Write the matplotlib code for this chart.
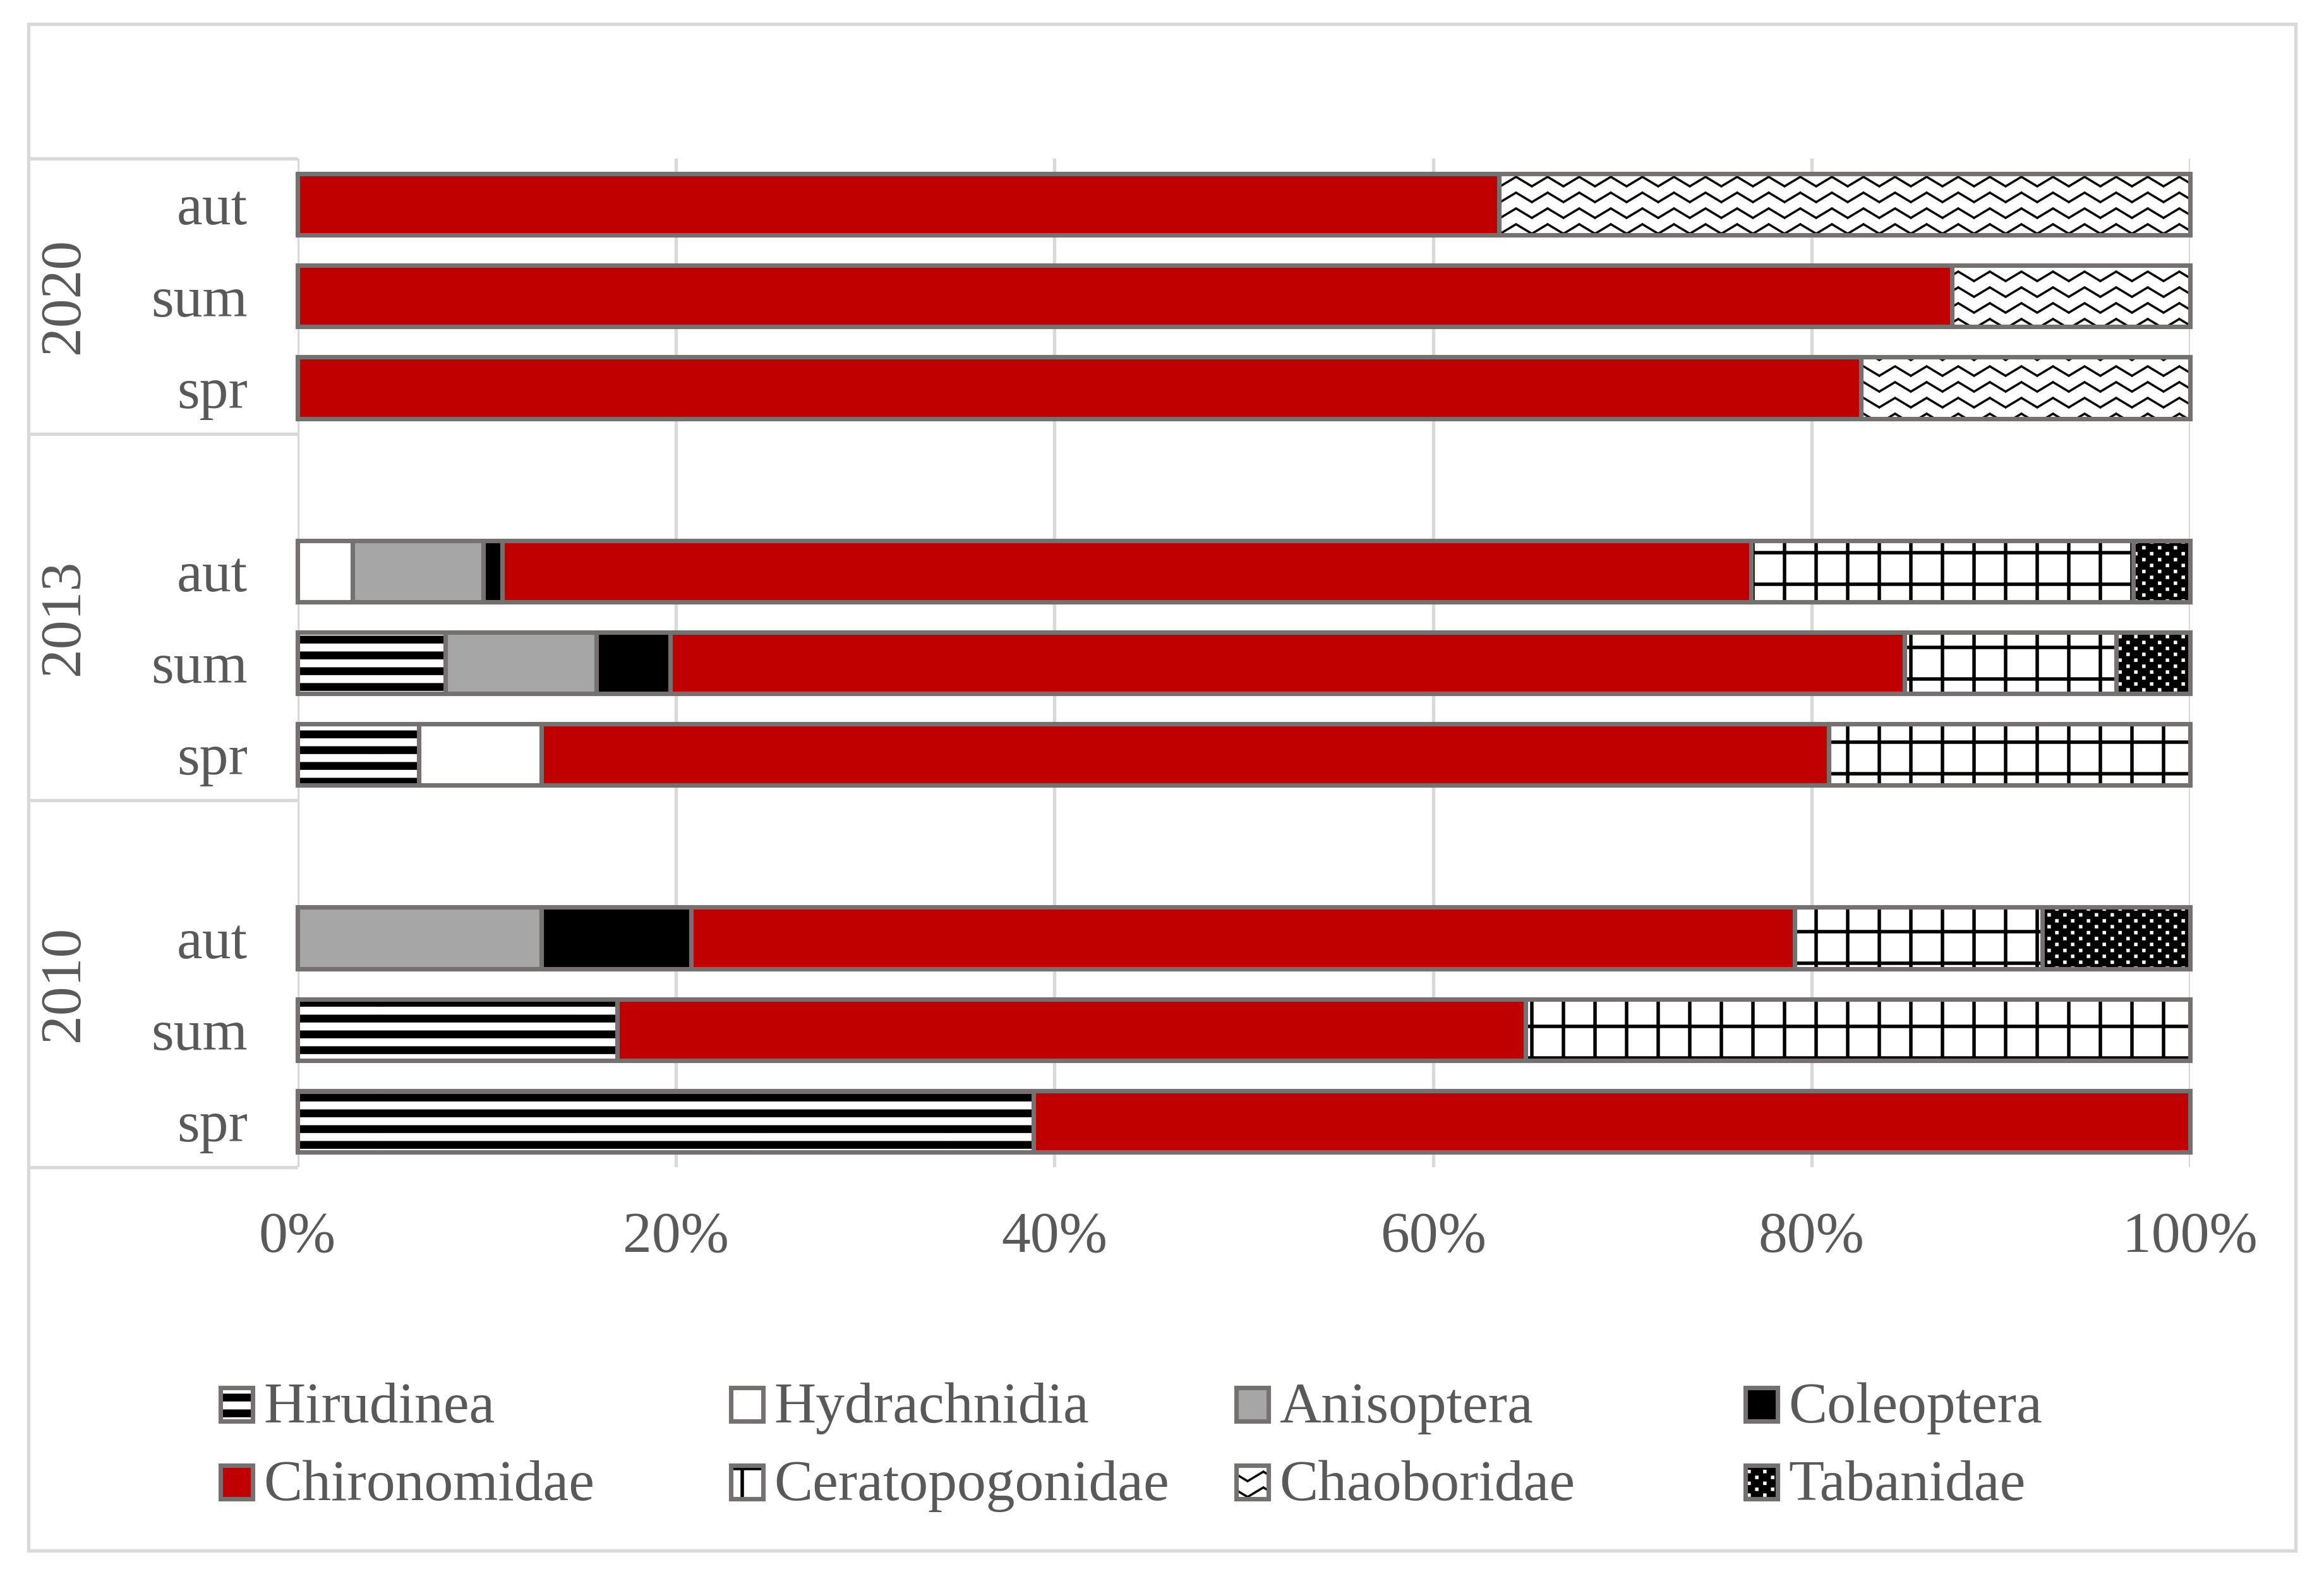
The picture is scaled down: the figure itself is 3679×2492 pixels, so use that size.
import numpy as np
import matplotlib
matplotlib.use("Agg")
import matplotlib.pyplot as plt
import matplotlib.hatch as mhatch
import matplotlib.patches as mpatches
import matplotlib.transforms as mtransforms
from matplotlib.path import Path
from matplotlib.ticker import PercentFormatter

# ---- data (share of each taxon, %) ----
years = ["2010", "2013", "2020"]
seasons = ["spr", "sum", "aut"]
taxa = ["Hirudinea", "Hydrachnidia", "Anisoptera", "Coleoptera",
        "Chironomidae", "Ceratopogonidae", "Chaoboridae", "Tabanidae"]

# order of values: 2010 spr/sum/aut, 2013 spr/sum/aut, 2020 spr/sum/aut
hirudinea = [38.9, 16.9, 0, 6.4, 7.8, 0, 0, 0, 0]
hydrachnidia = [0, 0, 0, 6.5, 0, 2.9, 0, 0, 0]
anisoptera = [0, 0, 12.9, 0, 8.0, 6.9, 0, 0, 0]
coleoptera = [0, 0, 7.9, 0, 3.9, 1.0, 0, 0, 0]
chironomidae = [61.1, 48.0, 58.3, 68.0, 65.2, 66.0, 82.6, 87.4, 63.5]
ceratopogonidae = [0, 35.1, 13.1, 19.1, 11.2, 20.2, 0, 0, 0]
chaoboridae = [0, 0, 0, 0, 0, 0, 17.4, 12.6, 36.5]
tabanidae = [0, 0, 7.8, 0, 3.9, 3.0, 0, 0, 0]

series = [hirudinea, hydrachnidia, anisoptera, coleoptera,
          chironomidae, ceratopogonidae, chaoboridae, tabanidae]

# (face colour, hatch, hatch colour) per taxon
styles = [
    ("white", "-", "black"),
    ("white", None, "black"),
    ("#A6A6A6", None, "black"),
    ("black", None, "black"),
    ("#C00000", None, "black"),
    ("white", "+", "black"),
    ("white", "/", "black"),
    ("black", ".", "white"),
]

EDGE = "#767171"
LIGHT = "#D9D9D9"
TEXT = "#595959"
W, H, DPI = 3679, 2492, 300


# ---- excel-like fill patterns (tile = 1 unit = 300 px) ----
def _rect(x0, y0, x1, y1):
    return [(x0, y0), (x1, y0), (x1, y1), (x0, y1)]


def _stripes():
    return [_rect(0, (j + 0.25) / 12, 1, (j + 0.25) / 12 + 0.04) for j in range(12)]


def _grid():
    t = 0.017
    polys = []
    for k in range(6):
        c = (k + 0.5) / 6
        polys.append(_rect(c - t / 2, 0, c + t / 2, 1))
        polys.append(_rect(0, c - t / 2, 1, c + t / 2))
    return polys


def _zigzag():
    t, amp = 0.012, 0.05
    polys = []
    for j in range(12):
        yc = (j + 0.5) / 12
        for k in range(12):
            xa, xb = k / 12, (k + 1) / 12
            ya = yc + amp / 2 if k % 2 == 0 else yc - amp / 2
            yb = yc - amp / 2 if k % 2 == 0 else yc + amp / 2
            polys.append([(xa, ya + t / 2), (xb, yb + t / 2),
                          (xb, yb - t / 2), (xa, ya - t / 2)])
    return polys


def _dots():
    s = 0.017
    polys = []
    for i in range(24):
        for j in range(32):
            if (i + j) % 2 == 0:
                cx, cy = (i + 0.5) / 24, (j + 0.5) / 32
                polys.append(_rect(cx - s / 2, cy - s / 2, cx + s / 2, cy + s / 2))
    return polys


TILES = {"-": _stripes(), "+": _grid(), "/": _zigzag(), ".": _dots()}


class TilePattern(mhatch.HatchPatternBase):
    def __init__(self, hatch, density):
        self.polys = TILES.get(hatch, [])
        self.num_vertices = sum(len(p) + 1 for p in self.polys)

    def set_vertices_and_codes(self, vertices, codes):
        i = 0
        for p in self.polys:
            n = len(p)
            vertices[i:i + n] = p
            vertices[i + n] = p[0]
            codes[i] = Path.MOVETO
            codes[i + 1:i + n] = Path.LINETO
            codes[i + n] = Path.CLOSEPOLY
            i += n + 1


mhatch._hatch_types[:] = [TilePattern]

plt.rcParams["font.family"] = "Liberation Serif"
plt.rcParams["hatch.linewidth"] = 0.1

fig = plt.figure(figsize=(W / DPI, H / DPI), dpi=DPI)


def fx(px):
    return px / W


def fy(py):
    return 1 - py / H


x0, x1 = 471, 3467
top, bottom = 251, 1848
ax = fig.add_axes([fx(x0), fy(bottom), fx(x1) - fx(x0), fy(top) - fy(bottom)])

# bar positions: 4 slots per year (3 seasons + 1 blank)
ypos = np.array([g * 4 + s for g in range(len(years)) for s in range(len(seasons))], dtype=float)
n_slots = (len(years) - 1) * 4 + len(seasons)

left = np.zeros(len(ypos))
bar_h = 0.67
for vals, (face, hatch, hcol) in zip(series, styles):
    vals = np.array(vals, dtype=float)
    m = vals > 0
    ax.barh(ypos[m], vals[m], left=left[m], height=bar_h, color=face,
            edgecolor=hcol, linewidth=0, hatch=hatch, zorder=2)
    ax.barh(ypos[m], vals[m], left=left[m], height=bar_h, fill=False,
            edgecolor=EDGE, linewidth=1.7, zorder=3, clip_on=False)
    left += vals

ax.set_xlim(0, 100)
ax.set_ylim(-0.5, n_slots - 0.5)
ax.set_xticks(np.arange(0, 101, 20))
ax.xaxis.set_major_formatter(PercentFormatter(xmax=100, decimals=0))
ax.set_yticks(ypos, seasons * len(years))
ax.tick_params(axis="both", length=0, labelsize=22, labelcolor=TEXT)
ax.tick_params(axis="x", pad=17)
ax.tick_params(axis="y", pad=19)
ax.grid(axis="x", color=LIGHT, linewidth=1.3)
ax.set_axisbelow(True)
for sp in ax.spines.values():
    sp.set_visible(False)

# multi-level category axis
trans = mtransforms.blended_transform_factory(ax.transAxes, ax.transData)
box_left = (45 - x0) / (x1 - x0)
bounds = [g * 4 - 0.5 for g in range(len(years))] + [n_slots - 0.5]
for b in bounds:
    ax.plot([box_left, 0], [b, b], color=LIGHT, lw=1.3, transform=trans,
            clip_on=False, solid_capstyle="butt")
for g, yr in enumerate(years):
    ax.text((102 - x0) / (x1 - x0), (bounds[g] + bounds[g + 1]) / 2, yr,
            transform=trans, rotation=90, ha="center", va="center",
            fontsize=22, color=TEXT)

# chart border
fig.add_artist(mpatches.Rectangle((fx(45), fy(2455)), fx(3634) - fx(45), fy(38) - fy(2455),
                                  transform=fig.transFigure, fill=False,
                                  edgecolor=LIGHT, linewidth=1.3))

# legend (4 columns x 2 rows)
col_left = [349, 1157, 1957, 2763]
row_top = [2197, 2320]
row_base = [2252, 2375]
sw, sh = 51, 53
for i, (name, (face, hatch, hcol)) in enumerate(zip(taxa, styles)):
    r, c = divmod(i, 4)
    xy = (fx(col_left[c]), fy(row_top[r] + sh))
    wh = (fx(sw), fy(0) - fy(sh))
    fig.add_artist(mpatches.Rectangle(xy, *wh, transform=fig.transFigure,
                                      facecolor=face, edgecolor=hcol,
                                      linewidth=0, hatch=hatch))
    fig.add_artist(mpatches.Rectangle(xy, *wh, transform=fig.transFigure,
                                      fill=False, edgecolor=EDGE, linewidth=1.7))
    fig.text(fx(col_left[c] + 68), fy(row_base[r]), name, ha="left",
             va="baseline", fontsize=22, color=TEXT)

fig.savefig("out.png", dpi=DPI, facecolor="white")
